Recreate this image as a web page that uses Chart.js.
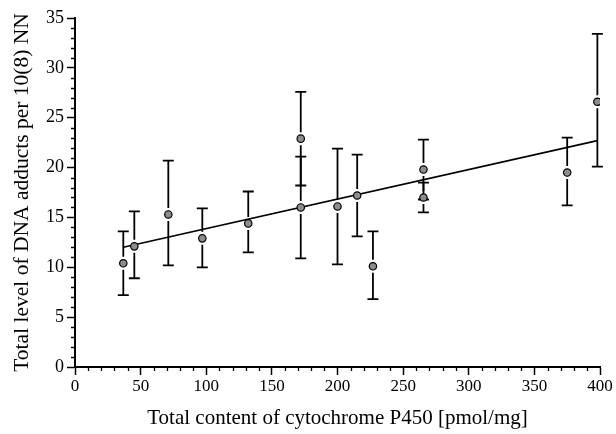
<!DOCTYPE html>
<html>
<head>
<meta charset="utf-8">
<script src="https://cdn.jsdelivr.net/npm/chart.js@4"></script>
<style>
  html, body { margin: 0; padding: 0; background: #fff; }
  #wrap { width: 616px; height: 434px; }
</style>
</head>
<body>
<div id="wrap"><canvas id="p450Chart" width="616" height="434"></canvas></div>
<script>
// values
const p450 = [36.8, 45.2, 71.1, 97, 132, 172, 172, 200, 215, 227, 265.5, 265.5, 375, 398];
const adducts = [10.4, 12.1, 15.3, 12.9, 14.4, 22.9, 16.0, 16.1, 17.2, 10.1, 19.8, 17.0, 19.5, 26.6];
const errHigh = [13.6, 15.6, 20.7, 15.9, 17.6, 27.6, 21.1, 21.9, 21.3, 13.6, 22.8, 18.5, 23.0, 33.4];
const errLow = [7.2, 8.9, 10.2, 10.0, 11.5, 18.2, 10.9, 10.3, 13.1, 6.8, 16.8, 15.5, 16.2, 20.1];
const fitX = [36.8, 398];
const fitY = [12.0, 22.7];

const serif = "'Liberation Serif', 'Times New Roman', serif";

// error bars, with a small gap around each point
const errorBars = {
  id: 'errorBars',
  beforeDatasetsDraw(chart) {
    const { ctx, scales: { x, y } } = chart;
    const gap = 6.5;
    ctx.save();
    ctx.strokeStyle = '#000';
    ctx.lineWidth = 1.8;
    p450.forEach((v, i) => {
      const px = x.getPixelForValue(v);
      const py = y.getPixelForValue(adducts[i]);
      const top = y.getPixelForValue(errHigh[i]);
      const bot = y.getPixelForValue(errLow[i]);
      ctx.beginPath();
      if (py - gap > top) { ctx.moveTo(px, top); ctx.lineTo(px, py - gap); }
      if (py + gap < bot) { ctx.moveTo(px, py + gap); ctx.lineTo(px, bot); }
      ctx.moveTo(px - 5.5, top); ctx.lineTo(px + 5.5, top);
      ctx.moveTo(px - 5.5, bot); ctx.lineTo(px + 5.5, bot);
      ctx.stroke();
    });
    ctx.restore();
  }
};

// minor ticks (outside the axes)
const minorTicks = {
  id: 'minorTicks',
  afterDraw(chart) {
    const { ctx, scales: { x, y }, chartArea } = chart;
    ctx.save();
    ctx.strokeStyle = '#000';
    ctx.lineWidth = 1.3;
    ctx.beginPath();
    for (let v = 1; v < 35; v++) {
      if (v % 5 === 0) continue;
      const py = Math.round(y.getPixelForValue(v)) + 0.5;
      ctx.moveTo(chartArea.left - 4, py); ctx.lineTo(chartArea.left, py);
    }
    for (let v = 10; v < 400; v += 10) {
      if (v % 50 === 0) continue;
      const px = Math.round(x.getPixelForValue(v)) + 0.5;
      ctx.moveTo(px, chartArea.bottom); ctx.lineTo(px, chartArea.bottom + 4);
    }
    ctx.stroke();
    ctx.restore();
  }
};

new Chart(document.getElementById('p450Chart'), {
  type: 'scatter',
  data: {
    datasets: [
      {
        data: p450.map((v, i) => ({ x: v, y: adducts[i] })),
        pointRadius: 3.7,
        pointBackgroundColor: '#8c8c8c',
        pointBorderColor: '#000',
        pointBorderWidth: 1.2,
      },
      {
        data: fitX.map((v, i) => ({ x: v, y: fitY[i] })),
        showLine: true,
        pointRadius: 0,
        borderColor: '#000',
        borderWidth: 1.6,
      },
    ],
  },
  options: {
    responsive: false,
    animation: false,
    layout: { padding: { top: 18, right: 16, left: 0, bottom: 0 } },
    plugins: { legend: { display: false }, tooltip: { enabled: false } },
    scales: {
      x: {
        type: 'linear',
        min: 0,
        max: 400,
        afterFit: (s) => { s.height = 67; },
        ticks: { stepSize: 50, color: '#000', padding: 1, font: { family: serif, size: 17 } },
        grid: { drawOnChartArea: false, tickLength: 8, tickColor: '#000', tickWidth: 1.5 },
        border: { color: '#000', width: 2 },
        title: {
          display: true,
          text: 'Total content of cytochrome P450 [pmol/mg]',
          color: '#000',
          padding: { top: 0, bottom: 3 },
          font: { family: serif, size: 21, lineHeight: 1.2 },
        },
      },
      y: {
        min: 0,
        max: 35,
        afterFit: (s) => { s.width = 75; },
        ticks: { stepSize: 5, color: '#000', padding: 3, font: { family: serif, size: 18 } },
        grid: { drawOnChartArea: false, tickLength: 8, tickColor: '#000', tickWidth: 1.5 },
        border: { color: '#000', width: 2 },
        title: {
          display: true,
          text: 'Total level of DNA adducts per 10(8) NN',
          color: '#000',
          padding: { top: 9, bottom: 0 },
          font: { family: serif, size: 21.5, lineHeight: 1.2 },
        },
      },
    },
  },
  plugins: [errorBars, minorTicks],
});
</script>
</body>
</html>
